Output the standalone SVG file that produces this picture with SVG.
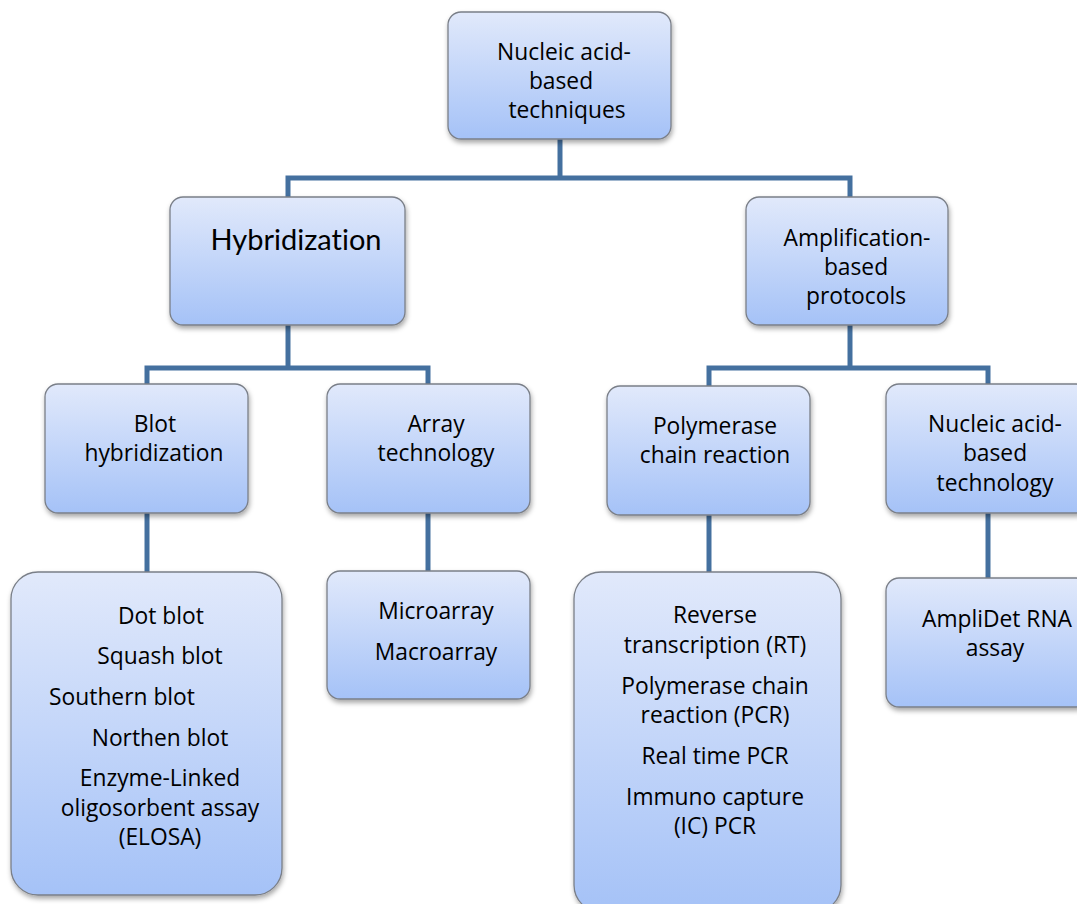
<svg xmlns="http://www.w3.org/2000/svg" width="1077" height="904" viewBox="0 0 1077 904">
<defs>
<linearGradient id="g" x1="0" y1="0" x2="0" y2="1">
<stop offset="0" stop-color="#e1e9fb"/>
<stop offset="1" stop-color="#a5c2f7"/>
</linearGradient>
<filter id="sh" x="-10%" y="-10%" width="125%" height="125%">
<feDropShadow dx="1" dy="3" stdDeviation="2.5" flood-color="#000" flood-opacity="0.35"/>
</filter>
</defs>
<style>
.box{fill:url(#g);stroke:#7a7f88;stroke-width:1.3;filter:url(#sh)}
.t{font-family:"Open Sans","Noto Sans",sans-serif;font-size:22.8px;fill:#000;text-anchor:middle;font-variant-ligatures:none}
.big{font-family:Lato,"Open Sans",sans-serif;font-size:29px}
.c{fill:none;stroke:#44709f;stroke-width:5}
</style>
<rect width="1077" height="904" fill="#fff"/>
<g id="connectors">
<polyline class="c" points="560,139 560,178"/>
<polyline class="c" points="288,197 288,178 850,178 850,197"/>
<polyline class="c" points="288,325 288,368"/>
<polyline class="c" points="147,384 147,368 428,368 428,384"/>
<polyline class="c" points="850,325 850,368"/>
<polyline class="c" points="709,386 709,368 988,368 988,384"/>
<polyline class="c" points="147,513 147,572"/>
<polyline class="c" points="428,513 428,572"/>
<polyline class="c" points="709,515 709,572"/>
<polyline class="c" points="988,513 988,578"/>
</g>
<g id="n-root">
<rect class="box" x="448" y="12" width="223" height="127" rx="13"/>
<text class="t" x="564" y="60">Nucleic acid-</text>
<text class="t" x="561" y="89">based</text>
<text class="t" x="567" y="118">techniques</text>
</g>
<g id="n-hyb">
<rect class="box" x="170" y="197" width="235" height="128" rx="13"/>
<text class="t big" x="296" y="250">Hybridization</text>
</g>
<g id="n-amp">
<rect class="box" x="746" y="197" width="202" height="128" rx="13"/>
<text class="t" x="857" y="246">Amplification-</text>
<text class="t" x="856" y="275">based</text>
<text class="t" x="856" y="304">protocols</text>
</g>
<g id="n-blot">
<rect class="box" x="45" y="384" width="203" height="129" rx="13"/>
<text class="t" x="155" y="432">Blot</text>
<text class="t" x="154" y="461">hybridization</text>
</g>
<g id="n-array">
<rect class="box" x="327" y="384" width="203" height="129" rx="13"/>
<text class="t" x="436" y="432">Array</text>
<text class="t" x="436" y="461">technology</text>
</g>
<g id="n-pcr">
<rect class="box" x="607" y="386" width="203" height="129" rx="13"/>
<text class="t" x="715" y="434">Polymerase</text>
<text class="t" x="715" y="463">chain reaction</text>
</g>
<g id="n-nat">
<rect class="box" x="886" y="384" width="203" height="129" rx="13"/>
<text class="t" x="995" y="432">Nucleic acid-</text>
<text class="t" x="995" y="461">based</text>
<text class="t" x="995" y="491">technology</text>
</g>
<g id="n-blotlist">
<rect class="box" x="11" y="572" width="271" height="323" rx="27"/>
<text class="t" x="161" y="624">Dot blot</text>
<text class="t" x="160" y="664">Squash blot</text>
<text class="t" x="122" y="705">Southern blot</text>
<text class="t" x="160" y="746">Northen blot</text>
<text class="t" x="160" y="786">Enzyme-Linked</text>
<text class="t" x="160" y="816">oligosorbent assay</text>
<text class="t" x="160" y="845">(ELOSA)</text>
</g>
<g id="n-arraylist">
<rect class="box" x="327" y="571" width="203" height="128" rx="13"/>
<text class="t" x="436" y="619">Microarray</text>
<text class="t" x="436" y="660">Macroarray</text>
</g>
<g id="n-pcrlist">
<rect class="box" x="574" y="572" width="267" height="340" rx="27"/>
<text class="t" x="715" y="623">Reverse</text>
<text class="t" x="715" y="653">transcription (RT)</text>
<text class="t" x="715" y="694">Polymerase chain</text>
<text class="t" x="715" y="723">reaction (PCR)</text>
<text class="t" x="715" y="764">Real time PCR</text>
<text class="t" x="715" y="805">Immuno capture</text>
<text class="t" x="715" y="834">(IC) PCR</text>
</g>
<g id="n-ampli">
<rect class="box" x="886" y="578" width="203" height="129" rx="13"/>
<text class="t" x="997" y="627">AmpliDet RNA</text>
<text class="t" x="995" y="656">assay</text>
</g>
</svg>
